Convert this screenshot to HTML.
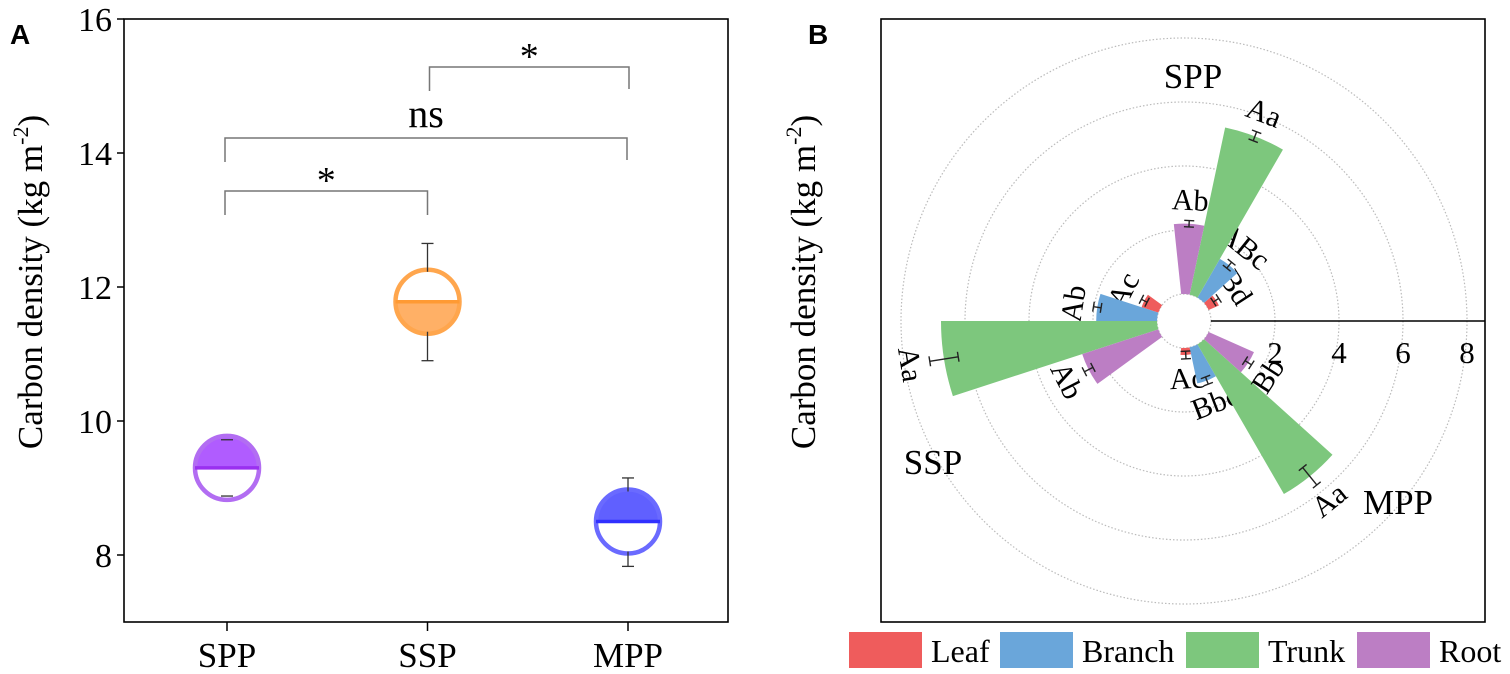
<!DOCTYPE html>
<html><head><meta charset="utf-8"><style>
body{margin:0;background:#fff}
svg{display:block;font-family:"Liberation Serif",serif}
</style></head><body>
<svg id="chart" width="1510" height="674" viewBox="0 0 1510 674" xmlns="http://www.w3.org/2000/svg">
<text x="10" y="44" font-family="Liberation Sans, sans-serif" font-weight="bold" font-size="28">A</text>
<text x="808" y="44" font-family="Liberation Sans, sans-serif" font-weight="bold" font-size="28">B</text>
<g id="pa"></g>
<g id="pb"></g>
</svg>
<script>
// Panel A data
const catsA = ['SPP','SSP','MPP'];
const meansA = [9.3, 11.78, 8.5];
const upperA = [9.72, 12.65, 9.15];
const lowerA = [8.88, 10.9, 7.83];
const fillTopA = [true, false, true];
const yTicksA = [8, 10, 12, 14, 16];
// Panel B data
const groupsB = ['SPP','SSP','MPP'];
const partsB = ['Leaf','Branch','Trunk','Root'];
const leafB = [0.35, 0.55, 0.22];
const branchB = [1.4, 1.9, 1.15];
const trunkB = [5.34, 6.75, 5.4];
const rootB = [2.2, 2.5, 1.55];
const leafErrB = [0.1, 0.1, 0.12];
const branchErrB = [0.12, 0.12, 0.12];
const trunkErrB = [0.15, 0.45, 0.35];
const rootErrB = [0.1, 0.15, 0.12];
const leafLblB = ['Bd','Ac','Ac'];
const branchLblB = ['ABc','Ab','Bbc'];
const trunkLblB = ['Aa','Aa','Aa'];
const rootLblB = ['Ab','Ab','Bb'];
const rTicksB = [2, 4, 6, 8];

const NS='http://www.w3.org/2000/svg';
function mk(parent, tag, attrs, text){const e=document.createElementNS(NS,tag);for(const k in attrs)e.setAttribute(k,attrs[k]);if(text!==undefined)e.textContent=text;parent.appendChild(e);return e;}

// ---------- Panel A ----------
const pa=document.getElementById('pa');
const L=124,R=728,T=19,B=622;
const yA=v=>T+(16-v)*(B-T)/9;
const xA=i=>227+i*200.5;
let e=mk(pa,'rect',{x:L,y:T,width:R-L,height:B-T,fill:'none',stroke:'#000','stroke-width':1.6});


yTicksA.forEach(t=>{
  e=mk(pa,'line',{x1:L-7,x2:L,y1:yA(t),y2:yA(t),stroke:'#000','stroke-width':1.5});
  
  
  e=mk(pa,'text',{x:L-12,y:yA(t)+12,'text-anchor':'end','font-size':34},String(t));
  
  
});
e=mk(pa,'text',{transform:'translate(42,282) rotate(-90)','text-anchor':'middle','font-size':35},'Carbon density (kg m');


mk(e,'tspan',{'font-size':22,dy:-14},'-2');
mk(e,'tspan',{dy:14},')');
const colsA=[{f:'#b05cff',s:'#b26df2',m:'#9a30f0'},{f:'#ffb066',s:'#ffa64d',m:'#ff9a33'},{f:'#6060ff',s:'#6a6aff',m:'#3030ff'}];
catsA.forEach((c,i)=>{
  const x=xA(i), y=yA(meansA[i]), r=32;
  e=mk(pa,'line',{x1:x,x2:x,y1:B,y2:B+9,stroke:'#000','stroke-width':1.5});
  
  
  e=mk(pa,'text',{x:x,y:667,'text-anchor':'middle','font-size':35},c);
  
  
  const g=mk(pa,'g',{});
  
  
  const half=fillTopA[i]?`M${x-r},${y} A${r},${r} 0 0 1 ${x+r},${y} Z`:`M${x-r},${y} A${r},${r} 0 0 0 ${x+r},${y} Z`;
  mk(g,'path',{d:half,fill:colsA[i].f});
  mk(g,'circle',{cx:x,cy:y,r:r,fill:'none',stroke:colsA[i].s,'stroke-width':4.5});
  mk(g,'line',{x1:x-r,x2:x+r,y1:y,y2:y,stroke:colsA[i].m,'stroke-width':3.5});
  const eg=mk(pa,'g',{stroke:'#333','stroke-width':1.3});
  
  
  const yu=yA(upperA[i]), yl=yA(lowerA[i]);
  mk(eg,'line',{x1:x,x2:x,y1:yu,y2:Math.max(yu,y-r+2)});
  mk(eg,'line',{x1:x,x2:x,y1:yl,y2:Math.min(yl,y+r-2)});
  mk(eg,'line',{x1:x-6,x2:x+6,y1:yu,y2:yu});
  mk(eg,'line',{x1:x-6,x2:x+6,y1:yl,y2:yl});
});
function bracket(x1,x2,yt,l1,l2,lbl,ly,name){
  const g=mk(pa,'g',{});
  
  
  mk(g,'path',{d:`M${x1},${yt+l1} V${yt} H${x2} V${yt+l2}`,fill:'none',stroke:'#777','stroke-width':1.5});
  mk(g,'text',{x:(x1+x2)/2,y:ly,'text-anchor':'middle','font-size':lbl==='ns'?40:38},lbl);
}
bracket(xA(0)-2,xA(1),191,24,24,'*',193,'bracket-spp-ssp');
bracket(xA(0)-2,xA(2)-1,138,24,22,'ns',127,'bracket-spp-mpp');
bracket(xA(1)+2,xA(2)+1,67,24,22,'*',69,'bracket-ssp-mpp');

// ---------- Panel B ----------
const pb=document.getElementById('pb');
const cx=1184, cy=321, r0=27, k=32;
const rB=v=>r0+k*v;
const pt=(r,a)=>[cx+r*Math.cos(a*Math.PI/180), cy-r*Math.sin(a*Math.PI/180)];
e=mk(pb,'rect',{x:881,y:19,width:604,height:603,fill:'none',stroke:'#000','stroke-width':1.6});


e=mk(pb,'text',{transform:'translate(815,282) rotate(-90)','text-anchor':'middle','font-size':35},'Carbon density (kg m');


mk(e,'tspan',{'font-size':22,dy:-14},'-2');
mk(e,'tspan',{dy:14},')');
[0].concat(rTicksB).forEach(t=>{
  e=mk(pb,'circle',{cx:cx,cy:cy,r:rB(t),fill:'none',stroke:'#bbb','stroke-width':1.2,'stroke-dasharray':'1.5 2'});
  
  
});
const centers=[60,180,300];
const valsB=[leafB,branchB,trunkB,rootB];
const errsB=[leafErrB,branchErrB,trunkErrB,rootErrB];
const lblsB=[leafLblB,branchLblB,trunkLblB,rootLblB];
const colsB=['#ef5c5c','#6aa6da','#7dc77d','#bc7ec4'];
const W=18;
groupsB.forEach((gname,gi)=>{
  partsB.forEach((p,pi)=>{
    const a1=centers[gi]-36+pi*W, a2=a1+W, v=valsB[pi][gi], r=rB(v);
    const [x1,y1]=pt(r0,a1),[x2,y2]=pt(r,a1),[x3,y3]=pt(r,a2),[x4,y4]=pt(r0,a2);
    e=mk(pb,'path',{d:`M${x1},${y1} L${x2},${y2} A${r},${r} 0 0 0 ${x3},${y3} L${x4},${y4} A${r0},${r0} 0 0 1 ${x1},${y1} Z`,fill:colsB[pi]});
    
    
    const am=(a1+a2)/2, er=k*errsB[pi][gi];
    const [ex1,ey1]=pt(r-er,am),[ex2,ey2]=pt(r+er,am);
    const g=mk(pb,'g',{stroke:'#222','stroke-width':1.4});
    
    
    mk(g,'line',{x1:ex1,y1:ey1,x2:ex2,y2:ey2});
    const c=Math.cos(am*Math.PI/180)*5, s=Math.sin(am*Math.PI/180)*5;
    [[ex1,ey1],[ex2,ey2]].forEach(([qx,qy])=>mk(g,'line',{x1:qx-s,y1:qy-c,x2:qx+s,y2:qy+c}));
    const [lx,ly]=pt(r+er+20,am);
    let rot=90-am; while(rot>180)rot-=360; while(rot<-180)rot+=360;
    if(rot>90)rot-=180; if(rot<-90)rot+=180;
    e=mk(pb,'text',{x:lx,y:ly,'text-anchor':'middle','dominant-baseline':'central','font-size':30,transform:`rotate(${rot} ${lx} ${ly})`},lblsB[pi][gi]);
    
    
  });
});
e=mk(pb,'line',{x1:cx+r0,x2:1485,y1:cy,y2:cy,stroke:'#000','stroke-width':1.6});


rTicksB.forEach(t=>{
  e=mk(pb,'text',{x:cx+rB(t),y:363,'text-anchor':'middle','font-size':31},String(t));
  
  
});
[['SPP',1193,88],['SSP',933,474],['MPP',1398,514]].forEach(([t,x,y])=>{
  e=mk(pb,'text',{x:x,y:y,'text-anchor':'middle','font-size':35},t);
  
  
});
const legX=[849,1000,1186,1357];
partsB.forEach((p,i)=>{
  const g=mk(pb,'g',{});
  
  
  mk(g,'rect',{x:legX[i],y:632,width:73,height:36,fill:colsB[i]});
  mk(g,'text',{x:legX[i]+82,y:662,'font-size':32},p);
});
</script>
</body></html>
